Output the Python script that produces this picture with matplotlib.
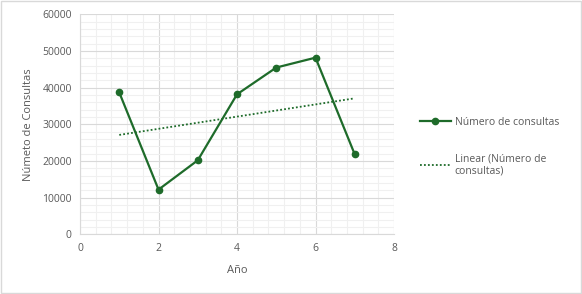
import numpy as np
import matplotlib
matplotlib.use("Agg")
import matplotlib.pyplot as plt
from matplotlib.ticker import MultipleLocator

years = [1, 2, 3, 4, 5, 6, 7]
consultas = [38700, 12200, 20200, 38200, 45500, 48200, 21800]
series_label = "Número de consultas"
trend_label = "Linear (Número de\nconsultas)"

plt.rcParams['font.family'] = ['Open Sans', 'DejaVu Sans']
green = "#1E6B2A"
gray_txt = "#595959"

fig = plt.figure(figsize=(5.82, 2.94), dpi=100)
fig.patch.set_facecolor("white")
fig.patches.append(plt.Rectangle((0.001, 0.002), 0.997, 0.995, transform=fig.transFigure,
                                 fill=False, edgecolor="#D9D9D9", linewidth=1))
ax = fig.add_axes([0.1375, 0.203, 0.5395, 0.748])

ax.plot(years, consultas, color=green, linewidth=1.6, marker="o", markersize=4.5,
        label=series_label, zorder=3)
coef = np.polyfit(years, consultas, 1)
xt = np.array([years[0], years[-1]])
ax.plot(xt, np.polyval(coef, xt), color=green, linestyle=(0, (1, 1.2)), linewidth=1.3,
        label=trend_label, zorder=2)

ax.set_xlim(0, 8)
ax.set_ylim(0, 60000)
ax.xaxis.set_major_locator(MultipleLocator(2))
ax.xaxis.set_minor_locator(MultipleLocator(0.4))
ax.yaxis.set_major_locator(MultipleLocator(10000))
ax.yaxis.set_minor_locator(MultipleLocator(2000))
ax.grid(which="major", color="#D9D9D9", linewidth=0.8)
ax.grid(which="minor", color="#F0F0F0", linewidth=0.8)
ax.set_axisbelow(True)
for s in ["top", "right"]:
    ax.spines[s].set_visible(False)
ax.spines["left"].set_color("#D9D9D9")
ax.spines["bottom"].set_color("#D9D9D9")
ax.tick_params(which="both", length=0, colors=gray_txt, labelsize=7.5)
ax.tick_params(axis="x", pad=6)
ax.tick_params(axis="y", pad=6)

ax.set_xlabel("Año", color=gray_txt, fontsize=8, labelpad=8)
ax.set_ylabel("Númeto de Consultas", color=gray_txt, fontsize=8, labelpad=6)

leg = fig.legend(loc="upper left", bbox_to_anchor=(0.705, 0.635), frameon=False,
                 fontsize=7.5, labelspacing=2.45, handlelength=3.0, handletextpad=0.35)
for t in leg.get_texts():
    t.set_color(gray_txt)

fig.savefig("out.png", dpi=100)
